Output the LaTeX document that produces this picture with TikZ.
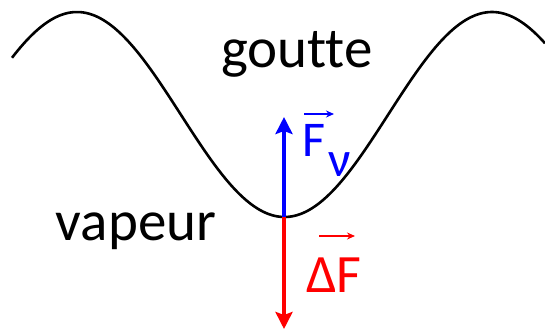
\documentclass[tikz,border=0pt]{standalone}
\usepackage{fontspec}
\setmainfont{Carlito}[Ligatures=NoCommon]
\usetikzlibrary{positioning}
\usetikzlibrary{calc}
\usetikzlibrary{arrows.meta}

\begin{document}
\begin{tikzpicture}[x=1pt, y=-1pt,
    interface/.style={line width=2.6pt},
    force/.style={line width=4.5pt, -{Stealth[length=17pt, width=17pt, inset=3pt]}},
    vecteur/.style={line width=1.5pt, -{Stealth[length=8pt, width=7pt]}},
    texte/.style={inner sep=0pt, font=\fontsize{#1}{#1}\selectfont}]
    \useasboundingbox (0,0) rectangle (545,331);

    % interface goutte / vapeur
    \draw[interface] plot[domain=12:545, samples=120, smooth] (\x, {114.5+102.5*cos(0.86747*(\x-284.5))});

    \coordinate (creux) at (284,217);
    \coordinate (haut) at (284,117);
    \coordinate (bas) at (284,329);
    \draw[force, red] (creux) -- (bas);
    \draw[force, blue] (creux) -- (haut);

    \node[texte=57, anchor=base] (goutte) at (297,68) {goutte};
    \node[texte=57, anchor=base] (vapeur) at (136,240) {vapeur};
    \node[texte=50, anchor=base west, text=blue] (fv) at (302,157) {F\hspace{3pt}\raisebox{-20pt}{ν}};
    \node[texte=54, anchor=base west, text=red] (df) at (306,292) {ΔF};

    \draw[vecteur, blue] ($(fv.base west)+(2,-43)$) -- ++(30,0);
    \draw[vecteur, red] ($(df.base west)+(13,-56)$) -- ++(36,0);
\end{tikzpicture}
\end{document}
